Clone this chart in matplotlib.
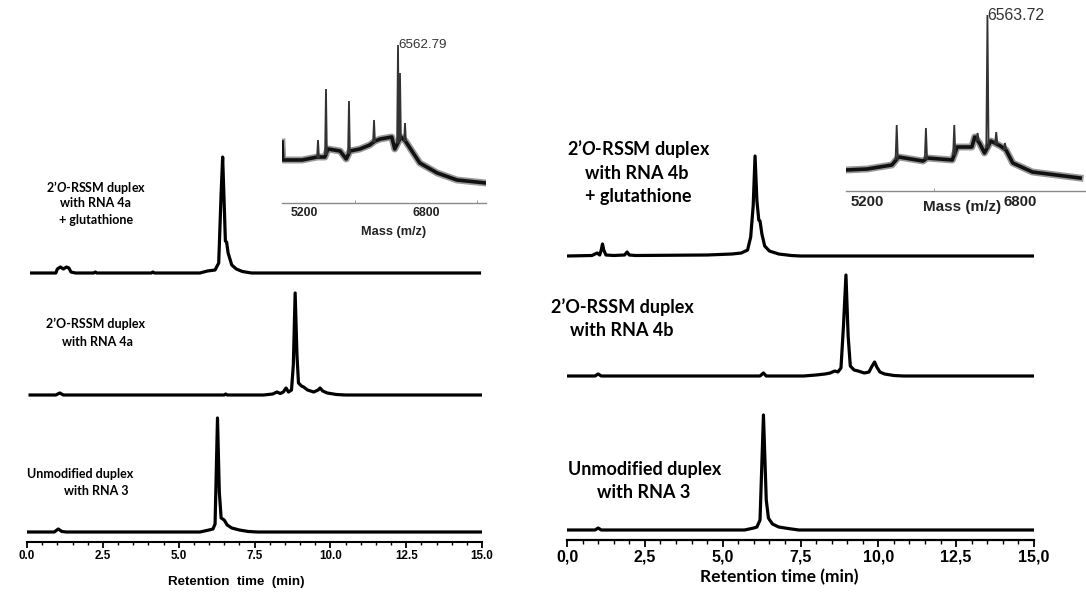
import numpy as np
import matplotlib
matplotlib.use("Agg")
import matplotlib.pyplot as plt
from matplotlib.transforms import ScaledTranslation

plt.rcParams["mathtext.fontset"] = "custom"
plt.rcParams["mathtext.bfit"] = "Lato:bold:italic"
plt.rcParams["mathtext.it"] = "Lato:italic"
plt.rcParams["mathtext.rm"] = "Lato"

W, H = 1086, 595

# ---------------- HPLC traces (retention time in min, signal in a.u.) ----------------
# Left panel, RNA 4a series
a_glut_t = [0.1, 0.95, 1.0, 1.1, 1.2, 1.3, 1.38, 1.45, 1.6, 2.2, 2.25, 2.3, 4.1, 4.15, 4.2, 5.7, 5.95,
            6.2, 6.32, 6.4, 6.45, 6.5, 6.54, 6.58, 6.63, 6.75, 6.9, 7.1, 7.4, 14.97]
a_glut_y = [0, 0, 4, 6, 4, 6, 5, 1, 0, 0, 1, 0, 0, 1, 0, 0, 2,
            3, 10, 80, 116, 70, 32, 31, 20, 8, 4, 1.5, 0, 0]

a_dup_t = [0.05, 0.95, 1.08, 1.2, 6.5, 6.55, 6.6, 7.8, 8.1, 8.24, 8.35, 8.45, 8.54, 8.62, 8.72,
           8.78, 8.84, 8.9, 8.95, 9.05, 9.12, 9.25, 9.45, 9.6, 9.66, 9.75, 9.9, 10.2, 10.5, 15.0]
a_dup_y = [0, 0, 2, 0, 0, 1, 0, 0, 1, 3, 1.5, 3, 7, 3, 5,
           30, 102, 40, 12, 9, 8, 5, 3, 5, 7, 4, 2, 0.5, 0, 0]

a_ref_t = [0.0, 0.9, 1.03, 1.15, 1.3, 5.7, 6.0, 6.13, 6.2, 6.28, 6.34, 6.4, 6.5, 6.6, 6.75, 7.0, 7.3, 7.6, 15.0]
a_ref_y = [0, 0, 3, 0.5, 0, 0, 2, 3, 8, 114, 40, 14, 12, 7, 4, 2, 0.5, 0, 0]

# Right panel, RNA 4b series
b_glut_t = [0.0, 0.8, 0.97, 1.05, 1.1, 1.14, 1.18, 1.25, 1.5, 1.85, 1.93, 2.0, 2.2, 4.5, 5.3, 5.6, 5.8,
            5.9, 5.98, 6.04, 6.1, 6.16, 6.2, 6.26, 6.35, 6.5, 6.8, 7.2, 7.5, 15.0]
b_glut_y = [0, 0.5, 3, 1, 6, 12, 6, 1, 0.5, 1, 4, 1, 0.5, 1, 2, 3, 6,
            19, 50, 100, 55, 36, 35, 22, 10, 5, 2, 0.5, 0, 0]

b_dup_t = [0.0, 0.9, 1.0, 1.1, 6.2, 6.31, 6.4, 7.6, 8.0, 8.29, 8.45, 8.6, 8.7, 8.8, 8.88, 8.96, 9.03,
           9.1, 9.22, 9.35, 9.55, 9.7, 9.8, 9.88, 9.95, 10.05, 10.2, 10.5, 10.8, 15.0]
b_dup_y = [0, 0, 2, 0, 0, 3, 0, 0, 1, 2, 3, 5, 4, 8, 50, 101, 40,
           10, 6, 5, 3, 4, 10, 14, 9, 4, 2, 0.5, 0, 0]

b_ref_t = [0.0, 0.9, 1.0, 1.1, 5.7, 6.0, 6.1, 6.2, 6.31, 6.4, 6.47, 6.51, 6.6, 6.8, 7.1, 7.45, 15.0]
b_ref_y = [0, 0, 2, 0, 0, 2, 3, 10, 115, 30, 12, 10, 6, 3, 1.5, 0, 0]

# ---------------- MALDI spectra (m/z, intensity in a.u.) ----------------
ms_a_label = 6562.79
ms_a_bg_m = [5035, 5045, 5300, 5500, 5600, 5640, 5800, 5880, 5930, 6060, 6190, 6260, 6330, 6480,
             6520, 6560, 6600, 6660, 6850, 7080, 7340, 7722]
ms_a_bg_y = [61, 43, 43, 46, 46, 54, 52, 44, 52, 54, 58, 62, 64, 66,
             54, 60, 66, 62, 40, 30, 23, 20]
ms_a_pk_m = [5509, 5614, 5917, 6247, ms_a_label, 6589, 6655]
ms_a_pk_y = [63, 114, 102, 83, 158, 130, 80]

ms_b_label = 6563.72
ms_b_bg_m = [5077, 5300, 5559, 5630, 5887, 5930, 6194, 6246, 6400, 6430, 6480, 6533, 6600, 6700,
             6759, 6830, 7036, 7538]
ms_b_bg_y = [21, 22, 26, 34, 30, 33, 31, 44, 44, 54, 48, 38, 50, 45,
             41, 28, 19, 13]
ms_b_pk_m = [5610, 5917, 6215, 6460, ms_b_label, 6656, 6748]
ms_b_pk_y = [66, 63, 66, 58, 176, 59, 48]

time_ticks = [0.0, 2.5, 5.0, 7.5, 10.0, 12.5, 15.0]
mass_ticks = [5200, 6800]


def box(x0, y0, x1, y1):
    """Pixel box (left, top, right, bottom) -> figure fraction rect."""
    return [x0 / W, 1 - y1 / H, (x1 - x0) / W, (y1 - y0) / H]


def ftext(x, y, s, **kw):
    fig.text(x / W, 1 - y / H, s, ha=kw.pop("ha", "center"), va=kw.pop("va", "center"), **kw)


fig = plt.figure(figsize=(W / 100, H / 100), dpi=100)
fig.patch.set_facecolor("white")

LBL = ["Lato", "DejaVu Sans"]
ARIAL = ["Liberation Sans", "DejaVu Sans"]


def chrom_axes(rect, ytop, offsets, traces, lw_spine, tick_fs, ticklabels, ml, mnl, pad):
    ax = fig.add_axes(rect)
    ax.set_xlim(0, 15)
    ax.set_ylim(0, ytop)
    for (t, y), off in zip(traces, offsets):
        ax.plot(t, np.asarray(y) + off, color="black", lw=2.3,
                solid_joinstyle="round", solid_capstyle="butt", clip_on=False)
    for s in ("left", "right", "top"):
        ax.spines[s].set_visible(False)
    ax.spines["bottom"].set_linewidth(lw_spine)
    ax.set_yticks([])
    ax.set_xticks(time_ticks)
    ax.set_xticks(np.arange(0, 15.01, 0.5), minor=True)
    ax.set_xticklabels(ticklabels, fontfamily=ARIAL, fontweight="bold", fontsize=tick_fs)
    ax.tick_params(axis="x", which="major", direction="out", length=ml, width=1.3, pad=pad)
    ax.tick_params(axis="x", which="minor", direction="out", length=mnl, width=1.0)
    ax.patch.set_alpha(0)
    return ax


# Left panel: axis from px 27 to 482, spine at y=542
chrom_axes(box(27, 0, 482, 542), 542, [269, 147, 10],
           [(a_glut_t, a_glut_y), (a_dup_t, a_dup_y), (a_ref_t, a_ref_y)],
           1.5, 8.4, [f"{v:.1f}" for v in time_ticks], 4, 2.5, 1.5)
ftext(236, 582, "Retention  time  (min)", fontfamily=ARIAL, fontweight="bold", fontsize=9.6)

# Right panel: axis from px 567 to 1034, spine at y=540
chrom_axes(box(567, 0, 1034, 540), 540, [284, 164, 10],
           [(b_glut_t, b_glut_y), (b_dup_t, b_dup_y), (b_ref_t, b_ref_y)],
           1.6, 11.5, [f"{v:.1f}".replace(".", ",") for v in time_ticks], 5, 3, 1.5)
ftext(779, 577, "Retention time (min)", fontfamily=LBL, fontweight="bold", fontsize=12.5)

# Trace labels, left panel
fs_l = 9.0
ftext(96, 187, "2\u2019$\\mathbfit{O}$-RSSM duplex", fontfamily=LBL, fontweight="bold", fontsize=fs_l)
ftext(96, 203, "with RNA 4a", fontfamily=LBL, fontweight="bold", fontsize=fs_l)
ftext(96, 220, "+ glutathione", fontfamily=LBL, fontweight="bold", fontsize=fs_l)
ftext(95, 324, "2\u2019O-RSSM duplex", fontfamily=LBL, fontweight="bold", fontsize=fs_l)
ftext(98, 342, "with RNA 4a", fontfamily=LBL, fontweight="bold", fontsize=fs_l)
ftext(80, 474, "Unmodified duplex", fontfamily=LBL, fontweight="bold", fontsize=fs_l)
ftext(96, 491, "with RNA 3", fontfamily=LBL, fontweight="bold", fontsize=fs_l)

# Trace labels, right panel
fs_r = 13.0
ftext(639, 149, "2\u2019$\\mathbfit{O}$-RSSM duplex", fontfamily=LBL, fontweight="bold", fontsize=fs_r)
ftext(637, 173, "with RNA 4b", fontfamily=LBL, fontweight="bold", fontsize=fs_r)
ftext(638, 197, "+ glutathione", fontfamily=LBL, fontweight="bold", fontsize=fs_r)
ftext(622, 307, "2\u2019O-RSSM duplex", fontfamily=LBL, fontweight="bold", fontsize=fs_r)
ftext(622, 330, "with RNA 4b", fontfamily=LBL, fontweight="bold", fontsize=fs_r)
ftext(645, 470, "Unmodified duplex", fontfamily=LBL, fontweight="bold", fontsize=fs_r)
ftext(644, 493, "with RNA 3", fontfamily=LBL, fontweight="bold", fontsize=fs_r)


def ms_axes(rect, xlim, ytop, bg_m, bg_y, pk_m, pk_y, label, tick_fs, ann_fs):
    ax = fig.add_axes(rect)
    ax.set_xlim(*xlim)
    ax.set_ylim(0, ytop)
    # noisy continuum drawn as a band, sharp ions as thin spikes
    ax.plot(bg_m, bg_y, color="#555555", lw=5.0, solid_joinstyle="round", alpha=0.6)
    ax.plot(bg_m, bg_y, color="#111111", lw=2.6, solid_joinstyle="round")
    for m, h in zip(pk_m, pk_y):
        base = np.interp(m, bg_m, bg_y)
        ax.plot([m - 12, m, m + 12], [base, h, base], color="#333333", lw=1.3,
                solid_joinstyle="miter")
    ax.text(label, max(pk_y), f"{label:.2f}", ha="left", va="center",
            fontfamily=ARIAL, fontsize=ann_fs, color="#333333")
    for s in ("left", "right", "top"):
        ax.spines[s].set_visible(False)
    ax.spines["bottom"].set_color("#8a8a8a")
    ax.spines["bottom"].set_linewidth(1.0)
    ax.set_yticks([])
    ax.set_xticks(mass_ticks)
    ax.set_xticks([6000, 7600], minor=True)
    ax.set_xticklabels([str(v) for v in mass_ticks], fontfamily=ARIAL,
                       fontweight="bold", fontsize=tick_fs, color="#222222")
    ax.tick_params(axis="x", which="major", length=0, pad=3)
    ax.tick_params(axis="x", which="minor", direction="in", length=2, color="#8a8a8a")
    shift = ScaledTranslation(0.10, 0, fig.dpi_scale_trans)
    for tl in ax.get_xticklabels():
        tl.set_transform(tl.get_transform() + shift)
    ax.patch.set_alpha(0)
    return ax


# Left MS inset: spine at y=203, x 282..486
ms_axes(box(282, 0, 486, 203), (5034.6, 7722), 203, ms_a_bg_m, ms_a_bg_y, ms_a_pk_m, ms_a_pk_y,
        ms_a_label, 8.8, 9.6)
ftext(394, 232, "Mass (m/z)", fontfamily=ARIAL, fontweight="bold", fontsize=9.2, color="#222222")

# Right MS inset: spine at y=191, x 846..1086
ms_axes(box(846, 0, 1086, 191), (5076.7, 7538), 191, ms_b_bg_m, ms_b_bg_y, ms_b_pk_m, ms_b_pk_y,
        ms_b_label, 10.8, 11.4)
ftext(962, 207, "Mass (m/z)", fontfamily=ARIAL, fontweight="bold", fontsize=11.0, color="#222222")

fig.savefig("out.png", dpi=100, facecolor="white")
